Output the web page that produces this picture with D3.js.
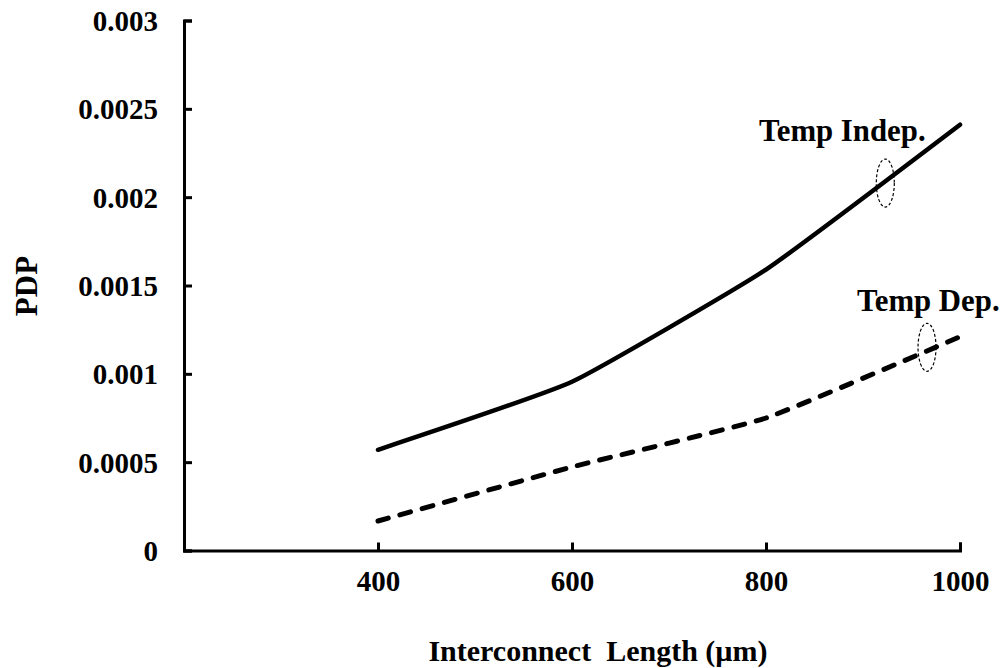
<!DOCTYPE html>
<html><head><meta charset="utf-8">
<script src="https://cdn.jsdelivr.net/npm/d3@7"></script>
<style>
html,body{margin:0;padding:0;background:#fff;}
svg text{font-family:"Liberation Serif","Times New Roman",serif;font-weight:bold;fill:#000;}
</style></head>
<body>
<svg id="chart" width="1002" height="668"></svg>
<script>
const lengths = [400, 600, 800, 1000];
const tempIndep = [0.00057, 0.000955, 0.00159, 0.00241];
const tempDep = [0.000167, 0.000473, 0.00075, 0.00121];
const xTicks = [400, 600, 800, 1000];
const yTicks = [0, 0.0005, 0.001, 0.0015, 0.002, 0.0025, 0.003];
const yTickLabels = ["0", "0.0005", "0.001", "0.0015", "0.002", "0.0025", "0.003"];

const svg = d3.select("#chart");
const x = d3.scaleLinear().domain([200, 1000]).range([184, 960]);
const y = d3.scaleLinear().domain([0, 0.003]).range([550.5, 20.5]);

// axes
const xAxis = d3.axisBottom(x).tickValues(xTicks).tickSizeInner(-8).tickSizeOuter(-8).tickPadding(20).tickFormat(d3.format("d"));
const gx = svg.append("g").attr("transform", `translate(0,${y(0)})`).call(xAxis);
const yAxis = d3.axisLeft(y).tickValues(yTicks).tickSizeInner(-8).tickSizeOuter(-8).tickPadding(26).tickFormat((d,i)=>yTickLabels[i]);
const gy = svg.append("g").attr("transform", `translate(${x(200)},0)`).call(yAxis);
[gx, gy].forEach(g => {
  g.select(".domain").attr("stroke", "#000").attr("stroke-width", 3);
  g.selectAll(".tick line").attr("stroke", "#000").attr("stroke-width", 3);
  g.selectAll(".tick text").style("font-size", "29px").style("font-family", "'Liberation Serif', serif").style("font-weight", "bold");
});
gy.selectAll(".tick text").attr("dy", "0.35em");
gx.selectAll(".tick text").attr("dy", "0.72em");

// lines
const line = (vals) => d3.line().x((d,i)=>x(lengths[i])).y(d=>y(d)).curve(d3.curveCardinal.tension(0.6))(vals);
svg.append("path").attr("d", line(tempIndep)).attr("fill","none").attr("stroke","#000").attr("stroke-width",4.5).attr("stroke-linecap","round");
svg.append("path").attr("d", line(tempDep)).attr("fill","none").attr("stroke","#000").attr("stroke-width",5).attr("stroke-linecap","round").attr("stroke-dasharray","11 12");

// annotation ellipses
svg.append("ellipse").attr("cx", x(923)).attr("cy", y(0.00208)).attr("rx", 9).attr("ry", 24)
  .attr("fill","none").attr("stroke","#000").attr("stroke-width",1.2).attr("stroke-dasharray","3 2");
svg.append("ellipse").attr("cx", x(966)).attr("cy", y(0.00115)).attr("rx", 9).attr("ry", 24)
  .attr("fill","none").attr("stroke","#000").attr("stroke-width",1.2).attr("stroke-dasharray","3 2");

// labels
svg.append("text").attr("x", 759).attr("y", 141).style("font-size","30.8px").text("Temp Indep.");
svg.append("text").attr("x", 857).attr("y", 311).style("font-size","30.8px").text("Temp Dep.");

// axis titles
svg.append("text").attr("x", 598).attr("y", 661).attr("text-anchor","middle").style("font-size","30px").style("white-space","pre").text("Interconnect  Length (µm)");
svg.append("text").attr("transform","translate(37,286) rotate(-90)").attr("text-anchor","middle").style("font-size","31px").text("PDP");
</script>
</body></html>
